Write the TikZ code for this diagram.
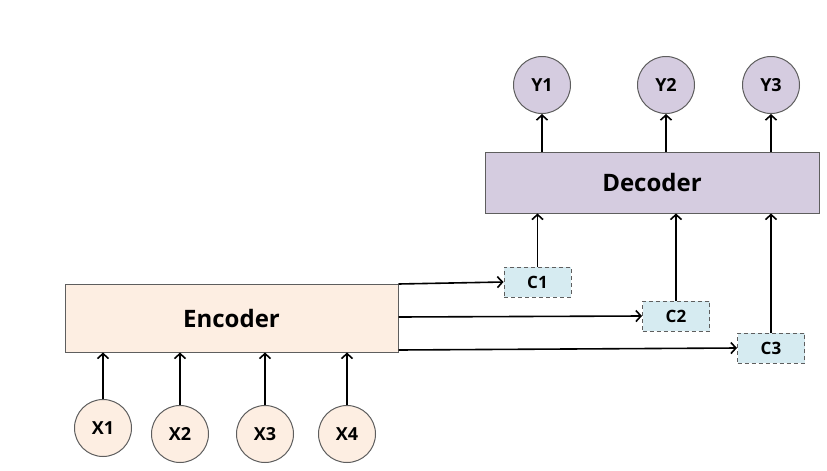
\documentclass[tikz,border=0pt]{standalone}
\usepackage{fontspec}
\setmainfont{Open Sans}
\usetikzlibrary{arrows.meta}
\definecolor{peach}{HTML}{FDEEE2}
\definecolor{lav}{HTML}{D5CCE0}
\definecolor{lblue}{HTML}{D6EBF1}
\definecolor{bord}{HTML}{5E5E5E}
\begin{document}
\begin{tikzpicture}[x=1pt,y=-1pt,
  encbox/.style={draw=bord,fill=peach,line width=1pt,minimum width=333pt,minimum height=68pt,inner sep=0pt,font=\fontsize{24}{26}\selectfont\bfseries},
  decbox/.style={draw=bord,fill=lav,line width=1pt,minimum width=334pt,minimum height=61pt,inner sep=0pt,font=\fontsize{24}{26}\selectfont\bfseries},
  xcirc/.style={circle,draw=bord,fill=peach,line width=1pt,minimum size=57pt,inner sep=0pt,font=\fontsize{18}{20}\selectfont\bfseries},
  ycirc/.style={circle,draw=bord,fill=lav,line width=1pt,minimum size=57pt,inner sep=0pt,font=\fontsize{18}{20}\selectfont\bfseries},
  cbox/.style={draw=bord,fill=lblue,dash pattern=on 4pt off 3pt,line width=1pt,minimum width=67pt,minimum height=30pt,inner sep=0pt,font=\fontsize{17}{19}\selectfont\bfseries},
  arr/.style={line width=1.6pt,-{Straight Barb[length=5pt,width=11pt,line width=1.6pt]}}
]
\useasboundingbox (0,0) rectangle (827,471);
\node[encbox] (enc) at (231.5,318) {Encoder};
\node[decbox] (dec) at (652,182.5) {Decoder};
\node[ycirc] (y1) at (542,85) {Y1};
\node[ycirc] (y2) at (666,85) {Y2};
\node[ycirc] (y3) at (771,85) {Y3};
\node[xcirc] (x1) at (103,428) {X1};
\node[xcirc] (x2) at (180,434) {X2};
\node[xcirc] (x3) at (265,434) {X3};
\node[xcirc] (x4) at (347,434) {X4};
\node[cbox] (c1) at (537.5,282) {C1};
\node[cbox] (c2) at (676,316) {C2};
\node[cbox] (c3) at (771,348) {C3};
\foreach \i/\xx in {1/542,2/666,3/771}
  \draw[arr] (dec.north -| \xx,0) -- (y\i.south);
\foreach \i in {1,2,3,4}
  \draw[arr] (x\i.north) -- (enc.south -| x\i.north);
\draw[arr] (enc.east |- 0,284) -- (c1.west);
\draw[arr] (enc.east |- 0,317) -- (c2.west);
\draw[arr] (enc.east |- 0,350) -- (c3.west);
\draw[arr] (c1.north) -- (dec.south -| c1.north);
\draw[arr] (c2.north) -- (dec.south -| c2.north);
\draw[arr] (c3.north) -- (dec.south -| c3.north);
\end{tikzpicture}
\end{document}
